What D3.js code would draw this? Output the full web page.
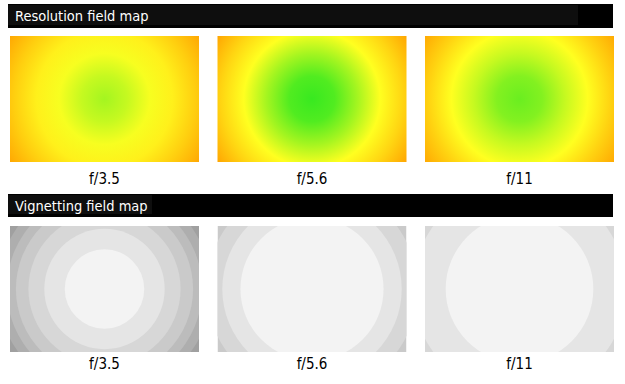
<!DOCTYPE html>
<html>
<head>
<meta charset="utf-8">
<script src="https://cdn.jsdelivr.net/npm/d3@7/dist/d3.min.js"></script>
<style>
  html, body { margin: 0; padding: 0; background: #fff; }
  svg { display: block; }
</style>
</head>
<body>
<script>
// ---------- DATA ----------
const apertures = ["f/3.5", "f/5.6", "f/11"];
const sectionTitles = ["Resolution field map", "Vignetting field map"];

// Relative resolution score (0 = low, 1 = high) at radial positions
// (fraction of the half-diagonal from image centre)
const radiusStops = [0, 0.2, 0.4, 0.6, 0.8, 1.0];
const resF35 = [0.72, 0.64, 0.52, 0.42, 0.24, 0.04];
const resF56 = [0.98, 0.92, 0.72, 0.50, 0.28, 0.03];
const resF11 = [0.86, 0.80, 0.64, 0.50, 0.27, 0.05];

// Vignetting band edges (fraction of half-diagonal); band beyond edge i => falloff level i+1
const vigF35 = [0.35, 0.53, 0.67, 0.78, 0.86, 0.94];
const vigF56 = [0.63, 0.79, 0.93];
const vigF11 = [0.65, 0.94];

const resolutionSeries = [resF35, resF56, resF11];
const vignettingSeries = [vigF35, vigF56, vigF11];

// ---------- LAYOUT ----------
const W = 625, H = 384;
const svg = d3.select("body").append("svg").attr("width", W).attr("height", H);
const defs = svg.append("defs");

const x = d3.scaleBand().domain(apertures).range([10, 614]).paddingInner(0.0892);
const panelH = 126;
const rowY = [36, 226];
const headerY = [4, 194];
const headerH = [24, 23];
const headerInnerW = [570, 144];
const labelY = [184, 369];
const FONT = "'DejaVu Sans Condensed', 'DejaVu Sans', sans-serif";

const resColor = d3.scaleLinear()
  .domain([0, 0.5, 1])
  .range(["#ffa000", "#ffff20", "#30e820"])
  .interpolate(d3.interpolateRgb);

const grayColor = d3.scaleLinear()
  .domain([0, 6])
  .range(["#f3f3f3", "#a0a0a0"]);

// headers
sectionTitles.forEach((t, i) => {
  const g = svg.append("g");
  g.append("rect").attr("x", 8).attr("y", headerY[i]).attr("width", 605).attr("height", headerH[i]).attr("fill", "#000");
  g.append("rect").attr("x", 8).attr("y", headerY[i] + 1).attr("width", headerInnerW[i]).attr("height", headerH[i] - 4).attr("fill", "#0e0e0e");
  g.append("text").attr("x", 15).attr("y", headerY[i] + 17)
    .attr("fill", "#fff").attr("font-family", FONT)
    .attr("font-size", 14.5).text(t);
});

const bw = x.bandwidth();
const halfDiag = Math.sqrt((bw / 2) ** 2 + (panelH / 2) ** 2);
const rScale = d3.scaleLinear().domain([0, 1]).range([0, halfDiag]);

// Resolution row
apertures.forEach((a, i) => {
  const x0 = x(a), y0 = rowY[0];
  const cx = x0 + bw / 2, cy = y0 + panelH / 2;
  const gid = "resgrad" + i;
  const grad = defs.append("radialGradient").attr("id", gid)
    .attr("gradientUnits", "userSpaceOnUse")
    .attr("cx", cx).attr("cy", cy).attr("r", rScale(1));
  grad.selectAll("stop").data(resolutionSeries[i]).join("stop")
    .attr("offset", (d, j) => radiusStops[j])
    .attr("stop-color", d => resColor(d));
  svg.append("rect").attr("x", x0).attr("y", y0).attr("width", bw).attr("height", panelH)
    .attr("fill", `url(#${gid})`);
});

// Vignetting row
apertures.forEach((a, i) => {
  const x0 = x(a), y0 = rowY[1];
  const cx = x0 + bw / 2, cy = y0 + panelH / 2;
  const cid = "clip" + i;
  defs.append("clipPath").attr("id", cid).append("rect")
    .attr("x", x0).attr("y", y0).attr("width", bw).attr("height", panelH);
  const edges = vignettingSeries[i];
  const g = svg.append("g").attr("clip-path", `url(#${cid})`);
  g.append("rect").attr("x", x0).attr("y", y0).attr("width", bw).attr("height", panelH)
    .attr("fill", grayColor(edges.length));
  const rings = edges.map((e, j) => ({ r: e, level: j })).reverse();
  g.selectAll("circle").data(rings).join("circle")
    .attr("cx", cx).attr("cy", cy).attr("r", d => rScale(d.r))
    .attr("fill", d => grayColor(d.level));
});

// Labels
[0, 1].forEach(row => {
  svg.append("g").selectAll("text").data(apertures).join("text")
    .attr("x", d => x(d) + bw / 2).attr("y", labelY[row])
    .attr("text-anchor", "middle")
    .attr("font-family", FONT)
    .attr("font-size", 15).attr("fill", "#000")
    .text(d => d);
});
</script>
</body>
</html>
